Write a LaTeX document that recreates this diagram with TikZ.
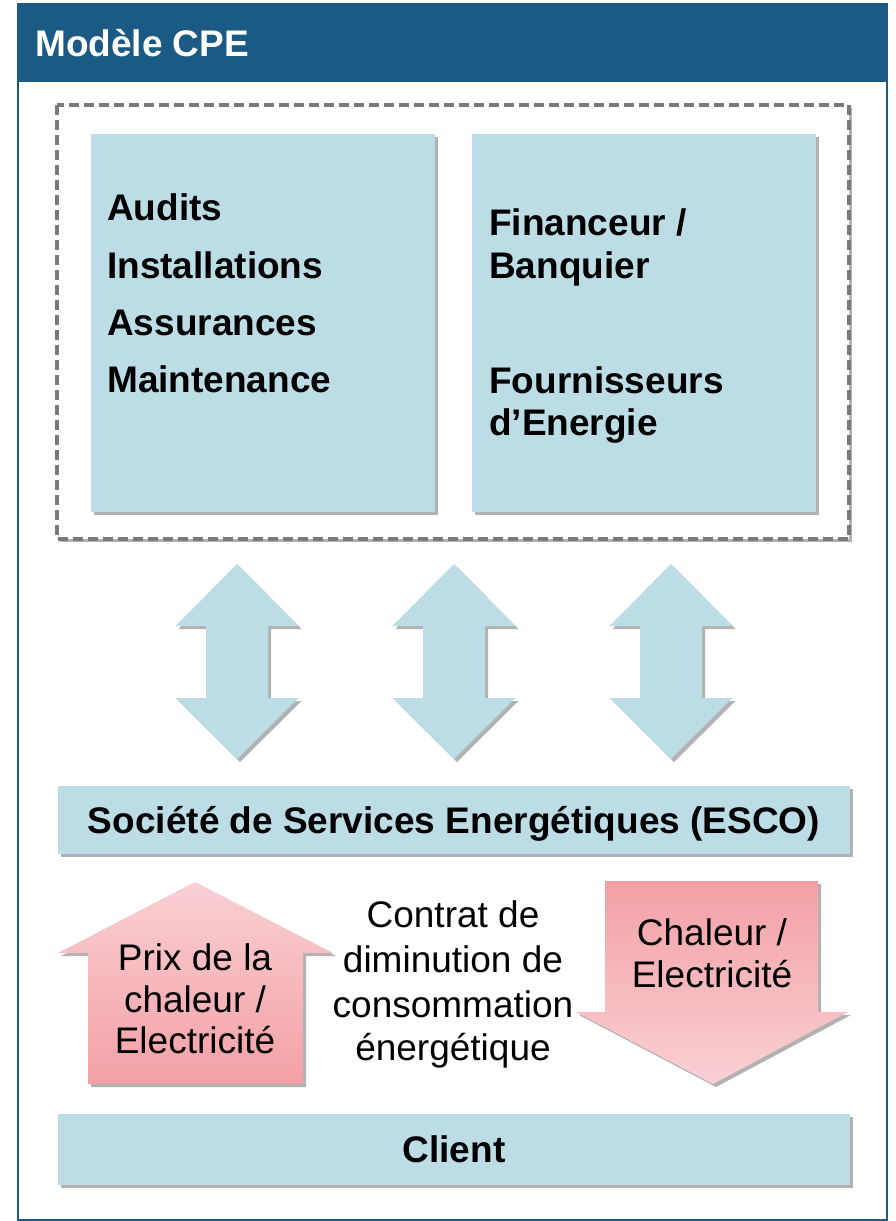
\documentclass[tikz,border=0pt]{standalone}
\usepackage{fontspec}
\setmainfont{Liberation Sans}
\usetikzlibrary{shadows,calc}

\definecolor{cpeblue}{HTML}{1A5A84}
\definecolor{cpelight}{HTML}{BCDCE6}
\definecolor{cpepinkA}{HTML}{F9D0D4}
\definecolor{cpepinkB}{HTML}{F3A0A5}
\definecolor{cpedash}{HTML}{7A7A7A}

\tikzset{
  cpeshadow/.style={drop shadow={shadow xshift=3pt, shadow yshift=-3pt, fill=black, opacity=0.3}},
  lightbox/.style={fill=cpelight, draw=none, cpeshadow, inner sep=0pt},
  plaintxt/.style={font=\fontsize{37}{44}\selectfont, inner sep=0pt},
  boldtxt/.style={font=\fontsize{37}{44}\selectfont\bfseries, inner sep=0pt},
}

\begin{document}
\begin{tikzpicture}[x=1pt,y=-1pt]
	\useasboundingbox (0,0) rectangle (895,1221);

	% frame and title bar
	\draw[cpeblue, line width=2pt, fill=white] (18,4) rectangle (887,1220);
	\fill[cpeblue] (18,4) rectangle (887,82);
	\node[boldtxt, text=white, anchor=base west] (title) at (35,56.5) {Modèle CPE};

	% dashed group with the two partner boxes
	\draw[cpedash, line width=3.5pt, dash pattern=on 10pt off 5pt, fill=white, cpeshadow] (57,105) rectangle (849,539);
	\node[lightbox, minimum width=344pt, minimum height=378pt, anchor=north west] (services) at (91,134) {};
	\node[lightbox, minimum width=344pt, minimum height=378pt, anchor=north west] (partners) at (472,134) {};

	\foreach \name/\y/\txt in {audits/220/Audits, install/278/Installations, assur/335/Assurances, maint/392/Maintenance}
		\node[boldtxt, anchor=base west] (\name) at (107,\y) {\txt};

	\node[boldtxt, anchor=base west] (financeur) at (489,235) {Financeur /};
	\node[boldtxt, anchor=base west] (banquier) at (489,278) {Banquier};
	\node[boldtxt, anchor=base west] (fourn) at (489,393) {Fournisseurs};
	\node[boldtxt, anchor=base west] (energie) at (489,435) {d’Energie};

	% double arrows
	\foreach \c in {237,454,671}
		\fill[cpelight, cpeshadow] (\c,564) -- ++(61.5,62) -- ++(-30.5,0) -- ++(0,72) -- ++(30.5,0) -- (\c,759) -- ++(-61.5,-61) -- ++(30.5,0) -- ++(0,-72) -- ++(-30.5,0) -- cycle;

	\node[lightbox, boldtxt, minimum width=792pt, minimum height=68pt, text height=26.5pt, text depth=0pt] (esco) at (454,820) {Société de Services Energétiques (ESCO)};

	% price and energy arrows
	\shade[top color=cpepinkA, bottom color=cpepinkB, cpeshadow] (195,882) -- (333,953) -- (303,953) -- (303,1084) -- (88,1084) -- (88,953) -- (58,953) -- cycle;
	\shade[top color=cpepinkB, bottom color=cpepinkA, cpeshadow] (605,881) -- (818,881) -- (818,1012) -- (848,1012) -- (713,1084) -- (576,1012) -- (605,1012) -- cycle;

	\node[plaintxt, anchor=base] (prix) at (195,970) {Prix de la};
	\node[plaintxt, anchor=base] (chaleurA) at (195,1012) {chaleur /};
	\node[plaintxt, anchor=base] (elecA) at (195,1053) {Electricité};

	\node[plaintxt, anchor=base] (chaleurB) at (712,945) {Chaleur /};
	\node[plaintxt, anchor=base] (elecB) at (712,987) {Electricité};

	\foreach \name/\y/\txt in {contrat/927/Contrat de, dimin/972/diminution de, conso/1017/consommation, energ/1060/énergétique}
		\node[plaintxt, anchor=base] (\name) at (453,\y) {\txt};

	\node[lightbox, boldtxt, minimum width=792pt, minimum height=71pt, text height=26.5pt, text depth=0pt] (client) at (454,1149) {Client};
\end{tikzpicture}
\end{document}
